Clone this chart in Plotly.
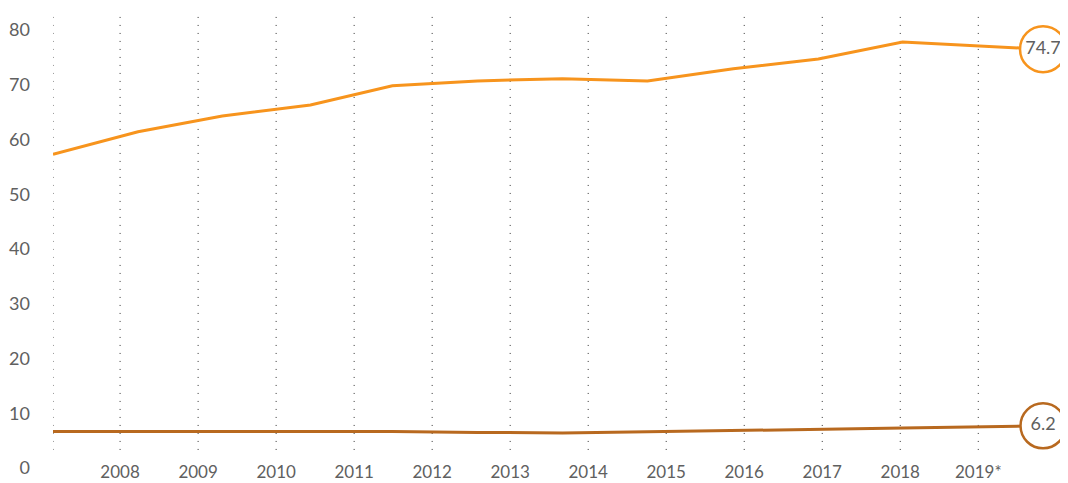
import plotly.graph_objects as go

# Data (x as fractional years)
x_pos = [2007.14, 2008.23, 2009.31, 2010.44, 2011.49, 2012.58, 2013.67,
         2014.76, 2015.86, 2016.95, 2018.03, 2019.83]
upper_values = [57.3, 61.4, 64.3, 66.3, 69.8, 70.7, 71.1, 70.7, 72.9, 74.7, 77.8, 76.5]
lower_values = [6.65, 6.65, 6.65, 6.65, 6.65, 6.5, 6.4, 6.6, 6.8, 7.0, 7.3, 7.7]
upper_label = "74.7"
lower_label = "6.2"
tick_years = [2008, 2009, 2010, 2011, 2012, 2013, 2014, 2015, 2016, 2017, 2018, 2019]
tick_text = ["2008", "2009", "2010", "2011", "2012", "2013", "2014", "2015",
             "2016", "2017", "2018", "2019*"]
y_ticks = [0, 10, 20, 30, 40, 50, 60, 70, 80]

ORANGE = "#F7941D"
BROWN = "#B8691F"
TEXT = "#606060"
FONT = "Lato"

fig = go.Figure()

# dotted vertical guides: at start of data and at every year tick
grid_x = [x_pos[0]] + tick_years
for gx in grid_x:
    fig.add_shape(type="line", xref="x", yref="y", x0=gx, x1=gx, y0=3.3, y1=83.6,
                  line=dict(color="#333333", width=1, dash="1px,7px"), layer="below")

fig.add_trace(go.Scatter(x=x_pos, y=upper_values, mode="lines",
                         line=dict(color=ORANGE, width=3), hoverinfo="skip"))
fig.add_trace(go.Scatter(x=x_pos, y=lower_values, mode="lines",
                         line=dict(color=BROWN, width=3), hoverinfo="skip"))

fig.add_trace(go.Scatter(x=[x_pos[-1]], y=[upper_values[-1]], mode="markers+text",
                         text=[upper_label], textposition="middle center",
                         textfont=dict(family=FONT, size=18, color=TEXT),
                         marker=dict(size=46, color="white", line=dict(color=ORANGE, width=2.5)),
                         cliponaxis=False, hoverinfo="skip"))
fig.add_trace(go.Scatter(x=[x_pos[-1]], y=[lower_values[-1]], mode="markers+text",
                         text=[lower_label], textposition="middle center",
                         textfont=dict(family=FONT, size=18, color=TEXT),
                         marker=dict(size=45, color="white", line=dict(color=BROWN, width=2.5)),
                         cliponaxis=False, hoverinfo="skip"))

fig.update_layout(
    width=1060, height=475,
    margin=dict(l=45, r=0, t=2, b=15, autoexpand=False),
    paper_bgcolor="white", plot_bgcolor="white",
    showlegend=False,
    font=dict(family=FONT, size=18, color=TEXT),
    xaxis=dict(range=[2007.14, 2020.15], tickvals=tick_years, ticktext=tick_text,
               showgrid=False, zeroline=False, showline=False, ticks="",
               automargin=False, ticklabelstandoff=-8, tickfont=dict(size=17, color=TEXT)),
    yaxis=dict(range=[0, 83.65], tickvals=y_ticks, showgrid=False, zeroline=False,
               showline=False, ticks="", automargin=False, ticklabelstandoff=22,
               tickfont=dict(size=18, color=TEXT)),
)

fig.write_html("out.html")
